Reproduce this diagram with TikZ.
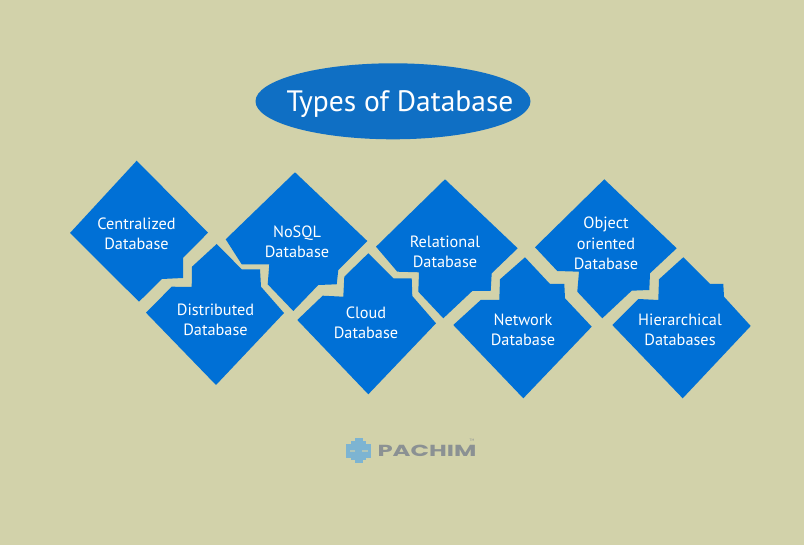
\documentclass[tikz,border=0pt]{standalone}
\usepackage{fontspec}
\setmainfont{PT Sans}
\newfontfamily\logofont{Poppins}
\definecolor{bgc}{HTML}{D2D2AA}
\definecolor{tilec}{HTML}{0070D6}
\definecolor{ovalc}{HTML}{0F6FC4}
\definecolor{logob}{HTML}{7DB4D2}
\definecolor{logog}{HTML}{8B9193}
\tikzset{
  tile/.style={fill=tilec,draw=none},
  tilelabel/.style={text=white,align=center,inner sep=0pt,font=\fontsize{16.3}{20.3}\selectfont},
  logoshape/.style={fill=logob,draw=none}
}
\begin{document}
\begin{tikzpicture}[x=1pt,y=-1pt]
\fill[bgc] (0,0) rectangle (804,545);
\useasboundingbox (0,0) rectangle (804,545);
% title
\fill[ovalc] (393,101.3) ellipse [x radius=137.5,y radius=38];
\node[text=white,inner sep=0pt,font=\fontsize{29.5}{34}\selectfont] (title) at (400,104) {Types of Database};
% tiles
\fill[tile] (136.7,160.7) -- (208,232.7) -- (183,258) -- (183,278) -- (162,279) -- (139,301.7) -- (70,233) -- cycle;
\fill[tile] (216.7,244) -- (241.7,269.3) -- (260,269.3) -- (261,286.7) -- (284,313) -- (216,385) -- (146,312.7) -- (171.7,286.7) -- (191.7,287) -- (192,266.7) -- cycle;
\fill[tile] (295,172.3) -- (367.3,241) -- (338.3,270) -- (336.7,284.3) -- (318.3,285) -- (293.3,311) -- (267.7,284.3) -- (269.3,264.3) -- (241.7,264.3) -- (225.7,239.3) -- cycle;
\fill[tile] (368.3,253.3) -- (393.3,278.3) -- (411.7,278.3) -- (412.3,296) -- (436,323.3) -- (368.3,394.3) -- (297.3,320) -- (322.7,295.7) -- (343.3,296.7) -- (344.3,276.7) -- cycle;
\fill[tile] (445,179.3) -- (517.7,248.3) -- (491.7,273.3) -- (490.7,291) -- (472.3,291) -- (443.3,318.3) -- (418.3,291.7) -- (419,272.3) -- (397.3,271.7) -- (376,246.7) -- cycle;
\fill[tile] (525,257.3) -- (550,284) -- (564.3,284) -- (565,298.3) -- (591.7,326.7) -- (523.3,398.3) -- (453.3,325) -- (480.7,300) -- (499.3,300) -- (500,279.3) -- cycle;
\fill[tile] (604.3,179.3) -- (676.7,248.3) -- (650,273.3) -- (649.3,290) -- (631.7,290.7) -- (602.3,318.3) -- (577.3,291.7) -- (579,271.7) -- (557.3,271) -- (535,247.3) -- cycle;
\fill[tile] (683.3,257.3) -- (710,284) -- (723.3,284) -- (724,296.7) -- (750.7,326) -- (682.7,398.3) -- (612.3,325) -- (638.3,299) -- (658.3,300) -- (659,279.3) -- cycle;
% labels
\node[tilelabel] (centralized) at (136.5,233.5) {Centralized\\Database};
\node[tilelabel] (distributed) at (215.5,319.5) {Distributed\\Database};
\node[tilelabel] (nosql) at (297,241.5) {NoSQL\\Database};
\node[tilelabel] (cloud) at (366,322.5) {Cloud\\Database};
\node[tilelabel] (relational) at (445,251.5) {Relational\\Database};
\node[tilelabel] (network) at (523,329.5) {Network\\Database};
\node[tilelabel] (object) at (606,243.5) {Object\\oriented\\Database};
\node[tilelabel] (hierarchical) at (680,329.5) {Hierarchical\\Databases};
% logo
\fill[logoshape] (346,444) rectangle (370.7,458);
\fill[logoshape] (354.5,438.5) rectangle (362.5,463);
\fill[logoshape] (351,441) rectangle (366,444);
\fill[logoshape] (351,458) rectangle (366,460.5);
\fill[bgc!60!logob] (349.5,449.8) rectangle (355,452);
\fill[bgc!60!logob] (362,449.8) rectangle (367.5,452);
\node[text=logog,inner sep=0pt,xscale=1.52,font=\logofont\fontsize{16}{18}\selectfont\bfseries] (pachim) at (427,451) {PACHIM};
\node[text=logog,inner sep=0pt,font=\fontsize{3.5}{4}\selectfont] (tm) at (472,440) {TM};
\end{tikzpicture}
\end{document}
